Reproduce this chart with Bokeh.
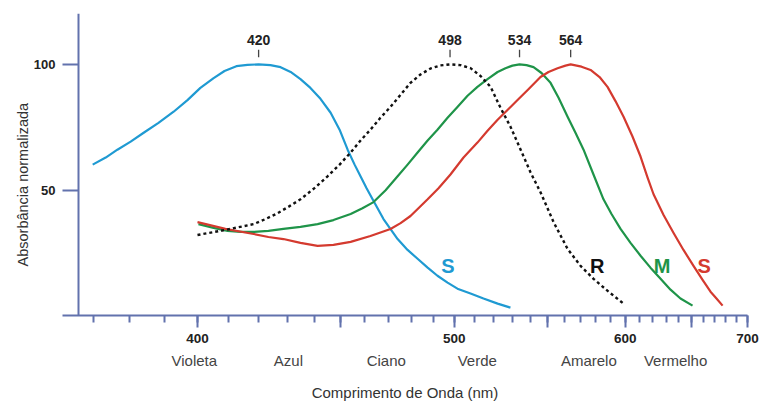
from bokeh.plotting import figure
from bokeh.models import Range1d, LinearAxis, FixedTicker, Title
from bokeh.core.properties import value
from bokeh.embed import file_html
from bokeh.resources import INLINE

# Normalised absorbance spectra of the three cones and the rod (wavelength in nm)
s_nm = [369.8, 373.3, 376.5, 380.2, 383.9, 388.2, 392.7, 396.9, 400.9, 405.1, 408.6, 412.5,
        416.2, 420, 424.1, 427.7, 431.3, 434.9, 438.6, 442.4, 446.3, 449.8, 453.0, 455.8,
        458.2, 460.7, 463.2, 467.8, 473.9, 478.3, 482.8, 487.4, 492.0, 496.8, 501.6, 508.1,
        514.7, 522.1, 529.0]
s_abs = [60.4, 63.2, 66.3, 69.5, 73.0, 76.9, 81.3, 85.9, 90.7, 94.6, 97.4, 99.3,
         99.8, 100, 99.7, 98.9, 97.0, 94.2, 90.7, 86.4, 80.9, 74.2, 66.3, 60.4,
         55.8, 51.1, 46.7, 38.9, 31.0, 26.7, 23.2, 19.7, 16.5, 13.8, 11.4, 9.5,
         7.5, 5.5, 3.9]

m_nm = [400.3, 405.1, 409.6, 413.9, 418.3, 423.4, 428.7, 434.9, 441.3, 447.4, 454.2, 459.0,
        463.6, 468.7, 473.9, 478.3, 482.8, 487.4, 492.0, 496.8, 501.6, 506.6, 511.6, 516.8,
        522.1, 526.3, 530.1, 534, 537.9, 541.9, 546.5, 551.8, 556.6, 562.1, 567.0, 572.1,
        578.5, 585.1, 590.5, 596.7, 603.7, 610.9, 618.2, 625.8, 633.5, 641.4, 651.2]
m_abs = [36.9, 35.4, 34.2, 33.8, 33.8, 34.2, 35.0, 35.8, 36.9, 38.5, 40.9, 43.2,
         45.6, 50.3, 55.8, 60.4, 65.2, 69.9, 74.2, 78.9, 83.2, 87.6, 91.1, 94.2,
         97.0, 98.5, 99.5, 100, 99.7, 98.9, 96.6, 92.7, 86.8, 79.3, 73.0, 66.3,
         56.5, 46.7, 40.9, 35.0, 29.5, 24.4, 19.7, 15.3, 11.0, 7.5, 4.7]

l_nm = [400.0, 408.9, 418.3, 423.4, 428.7, 434.9, 441.3, 447.4, 454.2, 462.3, 470.8, 475.2,
        479.6, 483.2, 487.4, 492.5, 498.2, 504.6, 511.6, 516.8, 522.1, 527.4, 532.9, 539.0,
        545.9, 550.6, 556.0, 560.8, 564, 570.8, 576.6, 582.5, 587.8, 593.2, 598.8, 605.1,
        610.9, 616.0, 620.5, 628.1, 635.9, 643.8, 652.0, 659.6, 666.4, 671.6, 677.0]
l_abs = [37.7, 35.0, 33.0, 31.8, 31.0, 29.5, 28.3, 28.7, 29.9, 32.2, 35.0, 37.3,
         40.1, 43.2, 46.7, 51.1, 56.5, 63.2, 69.1, 73.8, 78.1, 82.0, 85.9, 90.2,
         95.0, 97.0, 98.5, 99.5, 100, 99.1, 97.8, 95.0, 91.1, 85.5, 79.3, 71.5,
         63.6, 55.4, 48.7, 40.5, 33.4, 26.7, 20.4, 14.9, 10.2, 7.5, 4.7]

r_nm = [400.0, 408.9, 418.3, 422.4, 426.6, 430.9, 434.9, 440.1, 445.1, 449.8, 454.2, 458.2,
        462.3, 466.5, 470.8, 475.2, 479.6, 484.1, 488.8, 493.4, 498, 503.1, 508.1, 513.2,
        518.4, 523.6, 529.0, 534.6, 540.2, 545.9, 553.6, 562.1, 570.2, 578.5, 588.5, 598.8]
r_abs = [32.6, 34.6, 36.9, 38.9, 41.2, 44.0, 46.7, 51.1, 55.8, 60.4, 65.2, 69.9,
         74.2, 78.9, 83.2, 88.0, 92.7, 96.0, 98.4, 99.6, 100, 99.7, 98.5, 95.4,
         91.1, 82.9, 75.4, 66.3, 57.3, 49.5, 37.7, 27.1, 20.4, 15.3, 10.2, 5.5]

peak_nm = [420, 498, 534, 564]

curve_names = ["S", "R", "M", "S"]
curve_name_nm = [497, 581, 627, 661]
curve_name_abs = [20.4, 20.4, 20.4, 20.4]

tick_nm = [400, 500, 600, 700]
mid_tick_nm = [450, 550, 650]
minor_tick_nm = list(range(370, 701, 10))
y_ticks = [50, 100]

colour_names = ["Violeta", "Azul", "Ciano", "Verde", "Amarelo", "Vermelho"]
colour_nm = [399, 430.5, 469, 511.5, 575.5, 637.5]

BLUE = "#1f9ad2"
GREEN = "#1f9449"
RED = "#d43a2f"
BLACK = "#111111"
AXIS = "#6272ad"
FONT = "Liberation Sans"


def wn(nm):
    """Wavenumber (cm^-1); the horizontal scale is linear in 1/wavelength."""
    return 1e7 / nm


def wns(seq):
    return [wn(v) for v in seq]


p = figure(width=760, height=403,
           x_range=Range1d(wn(361.93), wn(700)), y_range=Range1d(0.8, 120.1),
           x_axis_type=None, y_axis_type=None,
           output_backend="svg", toolbar_location=None,
           min_border_top=13, min_border_right=13, min_border_left=62, min_border_bottom=86)
p.outline_line_color = None
p.background_fill_color = "white"
p.border_fill_color = "white"

# tick labels of the absorbance axis, at the left edge of the frame
ylab = LinearAxis(ticker=FixedTicker(ticks=y_ticks))
ylab.axis_line_color = None
ylab.major_tick_line_color = None
ylab.major_tick_out = 0
ylab.major_tick_in = 0
ylab.minor_tick_line_color = None
ylab.major_label_text_font = FONT
ylab.major_label_text_font_style = "bold"
ylab.major_label_text_font_size = "13px"
ylab.major_label_text_color = "#222222"
ylab.major_label_standoff = 7
p.add_layout(ylab, "left")

# title of the absorbance axis, in the left margin, starting a little above the baseline
p.add_layout(Title(text="Absorbância normalizada", align="left", offset=49, standoff=0,
                   text_font=FONT, text_font_size="14.5px", text_font_style="normal",
                   text_color="#333333"), "left")

# line and ticks of the absorbance axis, set in from the start of the wavelength axis
yax = LinearAxis(ticker=FixedTicker(ticks=y_ticks), fixed_location=wn(366.06))
yax.axis_line_color = AXIS
yax.axis_line_width = 2
yax.major_tick_line_color = AXIS
yax.major_tick_line_width = 2
yax.major_tick_out = 0
yax.major_tick_in = 18
yax.minor_tick_line_color = None
yax.major_label_text_font_size = "0px"
yax.major_label_text_color = None
yax.major_label_standoff = 0
p.add_layout(yax, "right")

# wavelength axis with numeric labels
major = tick_nm + mid_tick_nm
xax = LinearAxis(ticker=FixedTicker(ticks=wns(major), minor_ticks=wns(minor_tick_nm)))
xax.major_label_overrides = {wn(v): (str(v) if v in tick_nm else "") for v in major}
xax.axis_line_color = AXIS
xax.axis_line_width = 2
xax.major_tick_line_color = AXIS
xax.major_tick_line_width = 2
xax.major_tick_out = 12
xax.major_tick_in = 0
xax.minor_tick_line_color = AXIS
xax.minor_tick_line_width = 2
xax.minor_tick_out = 7
xax.minor_tick_in = 0
xax.major_label_text_font = FONT
xax.major_label_text_font_style = "bold"
xax.major_label_text_font_size = "13.5px"
xax.major_label_text_color = "#222222"
xax.major_label_standoff = 6
p.add_layout(xax, "below")

# colour names under the wavelength axis
cax = LinearAxis(ticker=FixedTicker(ticks=wns(colour_nm)))
cax.major_label_overrides = {wn(v): n for v, n in zip(colour_nm, colour_names)}
cax.axis_line_color = None
cax.major_tick_line_color = None
cax.major_tick_out = 0
cax.major_tick_in = 0
cax.minor_tick_line_color = None
cax.major_label_text_font = FONT
cax.major_label_text_font_size = "15px"
cax.major_label_text_color = "#444444"
cax.major_label_standoff = 6
cax.axis_label = "Comprimento de Onda (nm)"
cax.axis_label_text_font = FONT
cax.axis_label_text_font_style = "normal"
cax.axis_label_text_font_size = "15px"
cax.axis_label_text_color = "#333333"
cax.axis_label_standoff = 12
p.add_layout(cax, "below")

# spectra
p.line(wns(s_nm), s_abs, line_color=BLUE, line_width=2.2, line_join="round")
p.line(wns(m_nm), m_abs, line_color=GREEN, line_width=2.2, line_join="round")
p.line(wns(l_nm), l_abs, line_color=RED, line_width=2.2, line_join="round")
p.line(wns(r_nm), r_abs, line_color=BLACK, line_width=2.4, line_dash="3 3")

# peak markers and labels
p.segment(x0=wns(peak_nm), y0=[102.8] * len(peak_nm), x1=wns(peak_nm), y1=[105.8] * len(peak_nm),
          line_color="#444444", line_width=1.3)
p.text(x=wns(peak_nm), y=[109.5] * len(peak_nm), text=[str(v) for v in peak_nm],
       text_font=value(FONT), text_font_style="bold", text_font_size="14px",
       text_color="#222222", text_align="center", text_baseline="middle")

# curve names
p.text(x=wns(curve_name_nm), y=curve_name_abs, text=curve_names,
       text_font=value(FONT), text_font_style="bold", text_font_size="20px",
       text_color=[BLUE, BLACK, GREEN, RED], text_align="center", text_baseline="middle")

open("out.html", "w").write(file_html(p, INLINE))
